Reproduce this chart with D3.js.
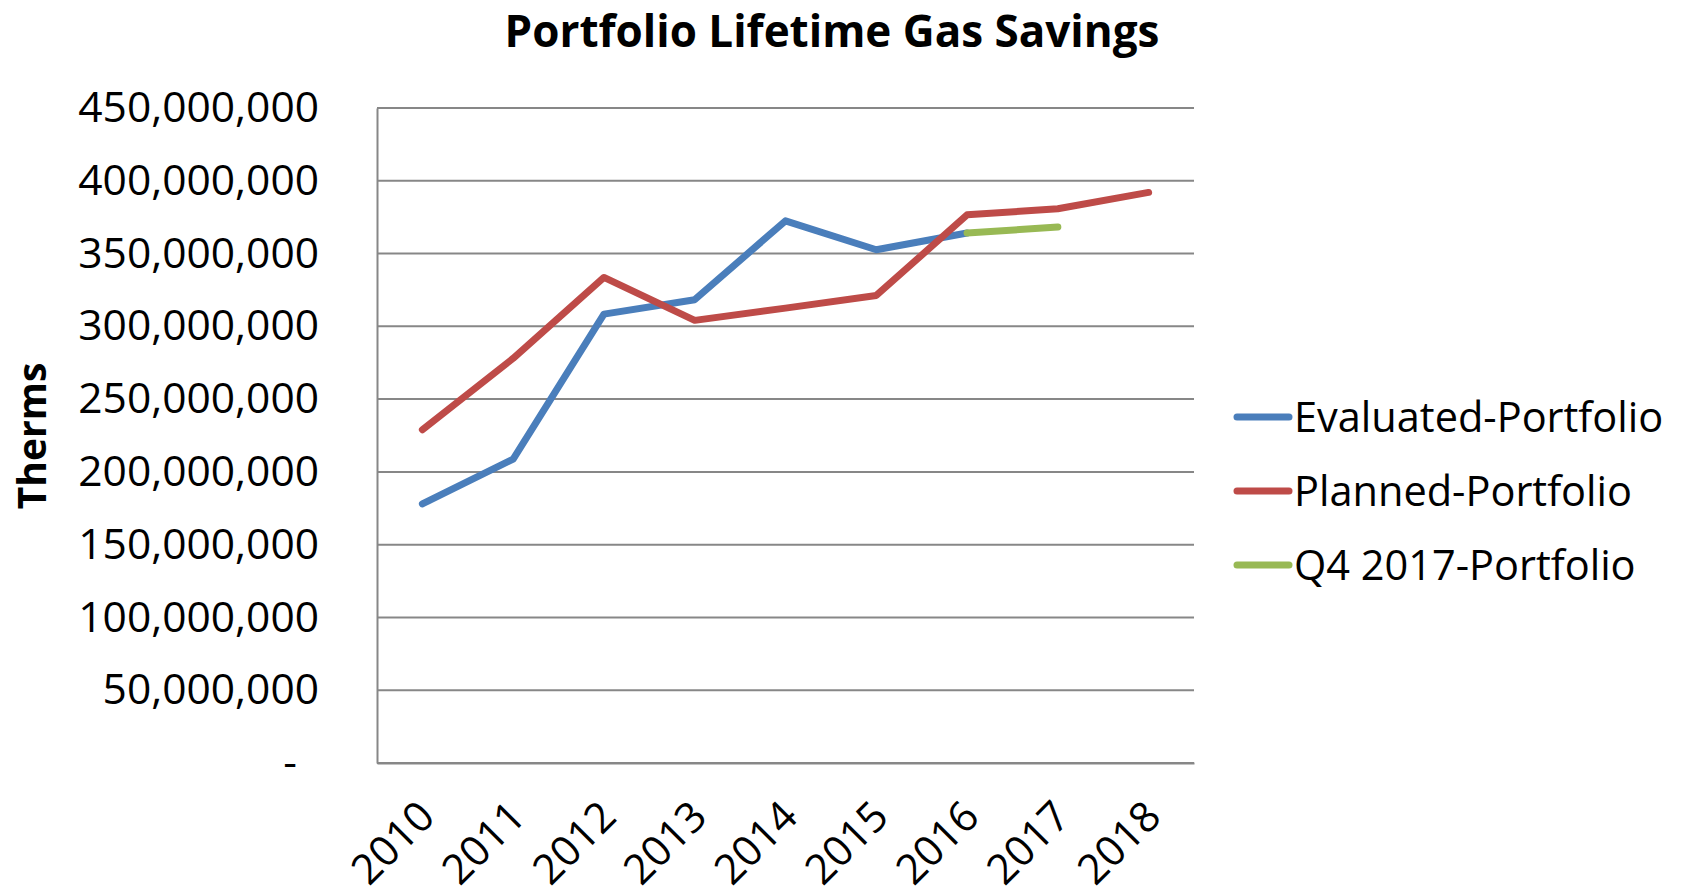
<!DOCTYPE html>
<html>
<head>
<meta charset="utf-8">
<script src="https://cdn.jsdelivr.net/npm/d3@7"></script>
<style>
  body { margin: 0; background: #fff; }
  text { font-family: "Open Sans", sans-serif; fill: #000; }
</style>
</head>
<body>
<svg></svg>
<script>
// chart data
const years = ["2010", "2011", "2012", "2013", "2014", "2015", "2016", "2017", "2018"];
const evaluated = [178000000, 208800000, 308400000, 318300000, 372500000, 352600000, 364100000, null, null];
const planned = [229000000, 278000000, 333600000, 304100000, 312500000, 321200000, 376600000, 380800000, 392000000];
const q4_2017 = [null, null, null, null, null, null, 364100000, 368200000, null];
const yTicks = [0, 50000000, 100000000, 150000000, 200000000, 250000000, 300000000, 350000000, 400000000, 450000000];
const seriesNames = ["Evaluated-Portfolio", "Planned-Portfolio", "Q4 2017-Portfolio"];
const seriesColors = ["#4a7ebb", "#be4b48", "#98b954"];

let width = 1684;
let height = 895;
const svg = d3.select("svg").attr("width", width).attr("height", height);

let plot = { left: 377, right: 1194, top: 108, bottom: 763 };

let x = d3.scalePoint().domain(years).range([plot.left, plot.right]).padding(0.5);
let y = d3.scaleLinear().domain([0, 450000000]).range([plot.bottom, plot.top]);

let fmt = d3.format(",");

// gridlines
svg.append("g")
    .selectAll("line")
    .data(yTicks)
    .enter()
    .append("line")
    .attr("x1", plot.left)
    .attr("x2", plot.right)
    .attr("y1", function (d) { return y(d); })
    .attr("y2", function (d) { return y(d); })
    .style("stroke", "#878787")
    .style("stroke-width", 2);

// y axis
let yAxis = d3.axisLeft(y)
    .tickValues(yTicks)
    .tickSize(0)
    .tickPadding(58)
    .tickFormat(function (d) { return d === 0 ? "-" : fmt(d); });

let gy = svg.append("g")
    .attr("transform", "translate(" + plot.left + ",0)")
    .call(yAxis);
gy.select(".domain").style("stroke", "#878787").style("stroke-width", 2);
gy.selectAll("text")
    .style("font-family", "'Open Sans', sans-serif")
    .style("font-size", "42.5px")
    .attr("dx", function (d) { return d === 0 ? -22 : 0; });

// x axis
let xAxis = d3.axisBottom(x).tickSize(0).tickPadding(0);
let gx = svg.append("g")
    .attr("transform", "translate(0," + plot.bottom + ")")
    .call(xAxis);
gx.select(".domain").style("stroke", "#878787").style("stroke-width", 2);
gx.selectAll("text")
    .style("font-family", "'Open Sans', sans-serif")
    .style("font-size", "42px")
    .attr("text-anchor", "end")
    .attr("dy", null)
    .attr("y", 0)
    .attr("transform", "translate(14,56) rotate(-45)");

// lines
let line = d3.line()
    .defined(function (d) { return d.v !== null; })
    .x(function (d) { return x(d.year); })
    .y(function (d) { return y(d.v); });

[evaluated, planned, q4_2017].forEach(function (vals, i) {
    let pts = years.map(function (yr, j) { return { year: yr, v: vals[j] }; });
    svg.append("path")
        .datum(pts)
        .attr("d", line)
        .style("fill", "none")
        .style("stroke", seriesColors[i])
        .style("stroke-width", 7)
        .style("stroke-linejoin", "round")
        .style("stroke-linecap", "round");
});

// title
svg.append("text")
    .attr("x", 832)
    .attr("y", 47)
    .attr("text-anchor", "middle")
    .style("font-weight", "bold")
    .style("font-size", "44px")
    .text("Portfolio Lifetime Gas Savings");

// y label
svg.append("text")
    .attr("transform", "translate(46,436) rotate(-90)")
    .attr("text-anchor", "middle")
    .style("font-weight", "bold")
    .style("font-size", "39px")
    .text("Therms");

// legend
let legend = svg.append("g")
    .selectAll("g")
    .data(seriesNames)
    .enter()
    .append("g")
    .attr("transform", function (d, i) { return "translate(1237," + (417 + i * 74) + ")"; });

legend.append("line")
    .attr("x1", 0)
    .attr("x2", 52)
    .style("stroke", function (d, i) { return seriesColors[i]; })
    .style("stroke-width", 7)
    .style("stroke-linecap", "round");

legend.append("text")
    .attr("x", 57)
    .attr("dy", "0.35em")
    .style("font-size", "41.5px")
    .text(function (d) { return d; });
</script>
</body>
</html>
